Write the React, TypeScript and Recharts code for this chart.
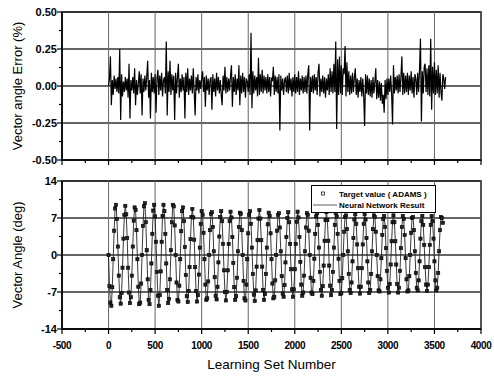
import React from 'react';
import { LineChart, Line, XAxis, YAxis, ReferenceLine, ReferenceArea, Legend } from 'recharts';

const FONT = "'Liberation Sans', Arial, Helvetica, sans-serif";

// ---- axis ticks ----
const xTicks = [-500, -250, 0, 250, 500, 750, 1000, 1250, 1500, 1750, 2000, 2250, 2500, 2750, 3000, 3250, 3500, 3750, 4000];
const xMajor = [-500, 0, 500, 1000, 1500, 2000, 2500, 3000, 3500, 4000];
const errTicks = [-0.5, -0.375, -0.25, -0.125, 0, 0.125, 0.25, 0.375, 0.5];
const errMajor = [-0.5, -0.25, 0, 0.25, 0.5];
const angTicks = [-14, -10.5, -7, -3.5, 0, 3.5, 7, 10.5, 14];
const angMajor = [-14, -7, 0, 7, 14];

// ---- labels ----
const xTitle = 'Learning Set Number';
const errTitle = 'Vector angle Error (%)';
const angTitle = 'Vector Angle (deg)';
const targetName = 'Target value ( ADAMS )';
const networkName = 'Neural Network Result';

// learning-set number spacing between samples
const SAMPLE_STEP = 10;

// ---- series: vector angle error (%) ----
const errorValues = [
  0.00, 0.05, 0.20, -0.13, 0.04, -0.06, 0.07, -0.02, 0.05, -0.04,
  0.06, -0.05, 0.25, -0.23, 0.08, -0.07, 0.03, -0.04, 0.06, -0.03,
  0.05, -0.08, 0.15, -0.22, 0.04, -0.03, 0.06, -0.05, 0.12, -0.13,
  0.04, -0.06, 0.02, 0.10, -0.05, 0.08, -0.20, 0.05, -0.04, 0.07,
  -0.03, 0.06, 0.17, -0.08, 0.04, -0.22, 0.09, -0.04, 0.06, -0.05,
  0.08, -0.18, 0.05, 0.11, -0.06, 0.07, -0.03, 0.09, -0.07, 0.04,
  0.06, -0.05, 0.30, -0.20, 0.10, -0.04, 0.17, -0.06, 0.08, -0.03,
  0.07, -0.23, 0.09, -0.05, 0.06, 0.15, -0.08, 0.05, -0.04, 0.08,
  -0.03, 0.06, -0.22, 0.09, -0.04, 0.12, -0.06, 0.05, -0.03, 0.07,
  -0.05, 0.12, -0.04, -0.20, 0.06, -0.03, 0.08, -0.05, 0.04, -0.02,
  0.05, 0.10, -0.04, 0.06, -0.14, 0.07, -0.03, 0.05, -0.06, 0.04,
  0.06, -0.16, 0.08, -0.04, 0.05, -0.07, 0.09, -0.03, 0.06, -0.05,
  0.04, -0.06, -0.13, 0.07, -0.03, 0.13, -0.05, 0.06, -0.04, 0.05,
  -0.03, 0.07, 0.14, -0.14, 0.06, -0.04, 0.08, -0.06, 0.05, -0.03,
  0.14, -0.13, 0.07, -0.05, 0.09, -0.04, 0.06, -0.08, 0.05, 0.03,
  -0.04, 0.08, -0.06, 0.36, -0.15, 0.10, -0.05, 0.07, -0.03, 0.06,
  -0.07, 0.19, -0.06, 0.08, -0.04, 0.11, -0.05, 0.07, -0.03, 0.06,
  -0.05, 0.08, -0.04, 0.06, -0.07, 0.05, 0.04, 0.13, -0.06, 0.07,
  -0.04, 0.06, -0.05, 0.08, -0.30, 0.07, -0.03, 0.05, -0.06, 0.04,
  0.06, -0.04, 0.07, -0.05, 0.09, -0.03, 0.05, -0.07, 0.06, -0.04,
  0.08, -0.05, 0.06, -0.04, 0.10, -0.06, 0.05, -0.03, 0.07, -0.05,
  0.06, -0.04, 0.07, -0.05, 0.08, 0.14, -0.30, 0.06, -0.04, 0.07,
  -0.05, 0.08, -0.03, 0.06, -0.06, 0.09, 0.15, -0.07, 0.05, -0.04,
  0.07, -0.05, 0.06, -0.08, 0.05, -0.03, 0.08, -0.06, 0.12, -0.04,
  0.10, -0.05, 0.15, -0.04, 0.30, -0.29, 0.18, -0.06, 0.20, -0.05,
  0.14, -0.06, 0.12, 0.08, 0.27, -0.07, 0.16, -0.04, 0.10, -0.06,
  0.07, -0.05, 0.09, -0.04, 0.06, 0.12, -0.06, 0.05, -0.08, 0.04,
  -0.04, 0.06, -0.07, 0.05, -0.06, -0.27, 0.08, -0.05, 0.07, -0.06,
  0.05, -0.07, 0.04, -0.08, 0.06, -0.05, 0.03, 0.12, -0.09, 0.04,
  -0.08, 0.03, -0.10, 0.02, -0.12, -0.06, -0.18, 0.04, -0.09, 0.05,
  -0.06, 0.05, -0.04, 0.07, -0.05, -0.26, 0.14, -0.05, 0.06, -0.03,
  0.07, -0.05, 0.08, -0.04, 0.06, 0.20, -0.06, 0.09, -0.05, 0.07,
  -0.04, 0.09, -0.06, 0.07, -0.03, 0.10, -0.05, 0.06, -0.08, 0.08,
  0.05, -0.06, 0.09, -0.04, 0.12, 0.32, -0.24, 0.10, -0.05, 0.13,
  0.15, -0.04, 0.12, -0.06, 0.14, -0.07, 0.32, -0.16, 0.13, -0.05,
  0.16, -0.06, 0.11, -0.05, 0.14, -0.08, 0.09, -0.04, -0.10, 0.08,
  0.05, -0.02, 0.06,
];

// ---- series: vector angle (deg), target values (ADAMS) ----
const targetAngles = [
  0, -5.9, -9.0, -9.6, -6.1, -0.8, 4.6, 8.8, 9.5, 6.8, 1.6, -3.9, -8.0, -9.2, -7.2, -2.4, 3.1, 7.6, 9.3, 7.7, 3.2, -2.4, -7.1, -9.1, -8.0, -3.9, 1.6, 6.5, 9.0, 8.5, 4.7, -0.8, -6.0, -9.3, -9.0, -5.4,
  0, 5.5, 9.2, 9.8, 6.2, 0.9, -4.6, -8.5, -9.3, -6.6, -1.6, 4.0, 8.4, 9.5, 7.3, 2.5, -3.2, -7.7, -9.6, -7.6, -3.1, 2.5, 7.4, 9.5, 8.3, 4.0, -1.6, -6.6, -9.1, -8.3, -4.6, 0.9, 6.2, 9.5, 9.2, 5.6,
  0, -5.2, -8.5, -8.8, -5.8, -0.8, 4.5, 8.3, 9.0, 6.4, 1.5, -3.8, -7.8, -8.9, -6.8, -2.3, 3.0, 7.2, 8.7, 7.1, 2.9, -2.3, -6.8, -8.8, -7.6, -3.7, 1.4, 5.9, 8.3, 7.6, 4.2, -0.8, -5.6, -8.5, -8.2, -5.0,
  0, 4.7, 7.8, 8.1, 5.3, 0.7, -4.2, -7.7, -8.4, -6.0, -1.4, 3.5, 7.2, 8.3, 6.4, 2.1, -2.9, -7.0, -8.6, -7.0, -2.9, 2.1, 6.4, 8.2, 7.1, 3.4, -1.5, -6.1, -8.5, -7.8, -4.3, 0.7, 5.3, 8.0, 7.8, 4.7,
  0, -4.9, -8.2, -8.6, -5.6, -0.8, 4.1, 7.6, 8.3, 5.9, 1.4, -3.6, -7.5, -8.7, -6.7, -2.2, 2.8, 6.9, 8.5, 6.9, 2.8, -2.2, -6.6, -8.5, -7.4, -3.6, 1.4, 5.8, 8.0, 7.4, 4.1, -0.8, -5.4, -8.2, -7.9, -4.8,
  0, 4.6, 7.6, 7.9, 5.2, 0.7, -4.0, -7.3, -7.9, -5.7, -1.4, 3.4, 7.0, 8.1, 6.2, 2.1, -2.7, -6.5, -7.9, -6.5, -2.7, 2.1, 6.3, 8.2, 7.1, 3.4, -1.3, -5.6, -7.7, -7.1, -3.9, 0.7, 5.2, 7.9, 7.6, 4.6,
  0, -4.3, -7.1, -7.4, -4.9, -0.7, 4.0, 7.3, 7.9, 5.7, 1.4, -3.2, -6.6, -7.7, -5.9, -2.0, 2.7, 6.6, 8.1, 6.6, 2.7, -2.0, -5.8, -7.6, -6.6, -3.2, 1.4, 5.7, 7.9, 7.3, 4.0, -0.7, -4.9, -7.4, -7.2, -4.4,
  0, 4.4, 7.2, 7.5, 4.9, 0.7, -3.6, -6.6, -7.2, -5.2, -1.2, 3.2, 6.7, 7.7, 5.9, 2.0, -2.5, -6.0, -7.3, -6.0, -2.5, 2.0, 5.9, 7.7, 6.7, 3.2, -1.2, -5.2, -7.2, -6.6, -3.6, 0.7, 4.9, 7.5, 7.2, 4.4,
  0, -4.0, -6.7, -6.9, -4.6, -0.6, 3.8, 6.8, 7.4, 5.3, 1.3, -3.0, -6.2, -7.1, -5.5, -1.8, 2.6, 6.2, 7.5, 6.2, 2.6, -1.8, -5.5, -7.1, -6.2, -3.0, 1.3, 5.3, 7.4, 6.8, 3.8, -0.6, -4.6, -6.9, -6.7, -4.0,
  0, 4.2, 7.0, 7.2, 4.7, 0.7, -3.4, -6.2, -6.7, -4.8, -1.2, 3.1, 6.4, 7.4, 5.7, 1.9, -2.3, -5.6, -6.8, -5.6, -2.3, 1.9, 5.7, 7.4, 6.4, 3.1, -1.2, -4.8, -6.7, -6.2, -3.4, 0.7, 4.7, 7.2, 7.0, 6.1,
];

const errorData = errorValues.map((v, i) => ({ n: i * SAMPLE_STEP, err: v }));
// the network output lies on the target values at this scale
const angleData = targetAngles.map((v, i) => ({ n: i * SAMPLE_STEP, target: v, network: v }));

function XTick(props: any) {
  const { x, y, payload, showLabel } = props;
  const major = xMajor.includes(payload.value);
  return (
    <g>
      <line x1={x} x2={x} y1={y} y2={y + (major ? 5 : 3)} stroke="#000" strokeWidth={1.2} />
      {showLabel && major ? (
        <text x={x} y={y + 20} textAnchor="middle" fontFamily={FONT} fontSize={10} fontWeight="bold" fill="#000" letterSpacing={-0.4}>
          {payload.value}
        </text>
      ) : null}
    </g>
  );
}

function YTick(props: any) {
  const { x, y, payload, majors, digits } = props;
  const major = majors.includes(payload.value);
  return (
    <g>
      <line x1={x} x2={x - (major ? 5 : 3)} y1={y} y2={y} stroke="#000" strokeWidth={1.2} />
      {major ? (
        <text x={x - 5} y={y + 4} textAnchor="end" fontFamily={FONT} fontSize={11} fontWeight="bold" fill="#000">
          {Number(payload.value).toFixed(digits)}
        </text>
      ) : null}
    </g>
  );
}

function yTitle(text: string) {
  return (p: any) => {
    const vb = p && p.viewBox ? p.viewBox : { x: 0, y: 12, width: 62, height: 148 };
    const cx = vb.x + 17;
    const cy = vb.y + vb.height / 2;
    return (
      <text x={cx} y={cy} transform={`rotate(-90 ${cx} ${cy})`} textAnchor="middle" dominantBaseline="central" fontFamily={FONT} fontSize={13} fill="#000">
        {text}
      </text>
    );
  };
}

function SquareDot(props: any) {
  const { cx, cy, index } = props;
  if (cx == null || cy == null) return <g key={`d${index}`} />;
  return <rect key={`d${index}`} x={cx - 1.6} y={cy - 1.6} width={3.2} height={3.2} fill="#222" stroke="#000" strokeWidth={0.6} />;
}

function LegendBox() {
  return (
    <div style={{ width: 125, height: 28, boxSizing: 'border-box', border: '1px solid #000', background: '#fff' }}>
      <svg width={123} height={26} style={{ display: 'block' }}>
        <rect x={9.5} y={6} width={3} height={3} fill="#fff" stroke="#222" strokeWidth={0.8} />
        <text x={27} y={11} fontFamily={FONT} fontSize={8} fontWeight="bold" fill="#000">{targetName}</text>
        <line x1={1} x2={25} y1={19} y2={19} stroke="#333" strokeWidth={0.8} />
        <text x={27} y={22} fontFamily={FONT} fontSize={8} fontWeight="bold" fill="#000">{networkName}</text>
      </svg>
    </div>
  );
}

const GRID_H = '#333';
const GRID_V = '#666';

export default function App() {
  return (
    <div style={{ position: 'absolute', left: 0, top: 0, width: 494, height: 380, background: '#fff', overflow: 'hidden' }}>
      <div style={{ position: 'absolute', left: 0, top: 0 }}>
        <LineChart width={494} height={170} data={errorData} margin={{ top: 12, right: 13, bottom: 0, left: 0 }}>
          <XAxis type="number" dataKey="n" domain={[-500, 4000]} ticks={xTicks} interval={0} height={10}
            tickSize={0} tickMargin={0} tickLine={false} axisLine={{ stroke: '#000', strokeWidth: 1.5 }}
            tick={<XTick showLabel={false} />} allowDataOverflow />
          <YAxis type="number" domain={[-0.5, 0.5]} ticks={errTicks} interval={0} width={62}
            tickSize={0} tickMargin={0} tickLine={false} axisLine={{ stroke: '#000', strokeWidth: 1.5 }}
            tick={<YTick majors={errMajor} digits={2} />} label={yTitle(errTitle)} allowDataOverflow />
          {errMajor.map((v) => (
            <ReferenceLine key={`eh${v}`} y={v} stroke={GRID_H} strokeWidth={1.3} />
          ))}
          {xMajor.map((v) => (
            <ReferenceLine key={`ev${v}`} x={v} stroke={GRID_V} strokeWidth={1} />
          ))}
          <ReferenceArea x1={-500} x2={4000} y1={-0.5} y2={0.5} fill="none" fillOpacity={0} stroke="#000" strokeWidth={1.5} />
          <Line type="linear" dataKey="err" stroke="#000" strokeWidth={1.2} dot={false} isAnimationActive={false} />
        </LineChart>
      </div>
      <div style={{ position: 'absolute', left: 0, top: 170 }}>
        <LineChart width={494} height={210} data={angleData} margin={{ top: 11, right: 13, bottom: 0, left: 0 }}>
          <XAxis type="number" dataKey="n" domain={[-500, 4000]} ticks={xTicks} interval={0} height={51}
            tickSize={0} tickMargin={0} tickLine={false} axisLine={{ stroke: '#000', strokeWidth: 1.5 }}
            tick={<XTick showLabel />} allowDataOverflow
            label={{ value: xTitle, position: 'insideBottom', offset: 11, style: { fontFamily: FONT, fontSize: 13.5, fill: '#000' } }} />
          <YAxis type="number" domain={[-14, 14]} ticks={angTicks} interval={0} width={62}
            tickSize={0} tickMargin={0} tickLine={false} axisLine={{ stroke: '#000', strokeWidth: 1.5 }}
            tick={<YTick majors={angMajor} digits={0} />} label={yTitle(angTitle)} allowDataOverflow />
          {angMajor.map((v) => (
            <ReferenceLine key={`ah${v}`} y={v} stroke={GRID_H} strokeWidth={1.3} />
          ))}
          {xMajor.map((v) => (
            <ReferenceLine key={`av${v}`} x={v} stroke={GRID_V} strokeWidth={1} />
          ))}
          <ReferenceArea x1={-500} x2={4000} y1={-14} y2={14} fill="none" fillOpacity={0} stroke="#000" strokeWidth={1.5} />
          <Line type="linear" dataKey="network" name={networkName} stroke="#222" strokeWidth={0.9} dot={false} isAnimationActive={false} />
          <Line type="linear" dataKey="target" name={targetName} stroke="none" strokeWidth={0} dot={SquareDot} activeDot={false} isAnimationActive={false} />
          <Legend layout="horizontal" verticalAlign="middle" align="center" content={() => <LegendBox />}
            wrapperStyle={{ left: 311, top: 15, width: 125, height: 28 }} />
        </LineChart>
      </div>
    </div>
  );
}
